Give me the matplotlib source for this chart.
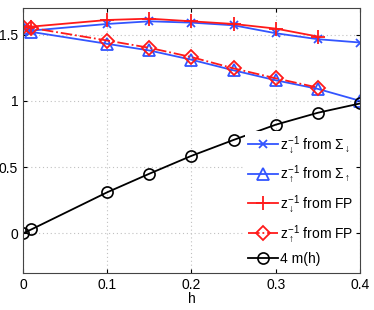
import numpy as np
import matplotlib.pyplot as plt

plt.rcParams['font.family'] = ['Liberation Sans', 'DejaVu Sans']
plt.rcParams['mathtext.fontset'] = 'custom'
plt.rcParams['mathtext.rm'] = 'Liberation Sans'
plt.rcParams['mathtext.it'] = 'Liberation Sans'

# data
h = [0, 0.01, 0.1, 0.15, 0.2, 0.25, 0.3, 0.35, 0.4]
h_fp = [0, 0.01, 0.1, 0.15, 0.2, 0.25, 0.3, 0.35]
z_dn_sigma = [1.55, 1.53, 1.58, 1.60, 1.59, 1.57, 1.51, 1.465, 1.44]
z_up_sigma = [1.55, 1.52, 1.43, 1.38, 1.31, 1.23, 1.155, 1.09, 1.0]
z_dn_fp = [1.56, 1.56, 1.61, 1.62, 1.60, 1.58, 1.545, 1.485]
z_up_fp = [1.56, 1.55, 1.455, 1.40, 1.33, 1.245, 1.17, 1.10]
m4 = [0, 0.03, 0.31, 0.45, 0.585, 0.705, 0.82, 0.91, 0.98]

blue = '#3355ff'
red = '#ff1a1a'

fig = plt.figure(figsize=(3.74, 3.10), dpi=100)
ax = fig.add_axes([0.0615, 0.119, 0.901, 0.855])

ax.plot(h, z_dn_sigma, color=blue, marker='x', ms=6, mew=1.3, lw=1.3,
        label=r'$z_{\downarrow}^{-1}$ from $\Sigma_{\downarrow}$')
ax.plot(h, z_up_sigma, color=blue, marker='^', ms=8.5, mfc='none', mew=1.3, lw=1.3,
        label=r'$z_{\uparrow}^{-1}$ from $\Sigma_{\uparrow}$')
ax.plot(h_fp, z_dn_fp, color=red, marker='+', ms=10, mew=1.3, lw=1.3,
        label=r'$z_{\downarrow}^{-1}$ from FP')
ax.plot(h_fp, z_up_fp, color=red, marker='D', ms=7, mfc='none', mew=1.3, lw=1.3,
        ls='-.', label=r'$z_{\uparrow}^{-1}$ from FP')
ax.plot(h, m4, color='black', marker='o', ms=8, mfc='none', mew=1.2, lw=1.3,
        label='4 m(h)')

ax.set_xlim(0, 0.4)
ax.set_ylim(-0.3, 1.7)
ax.set_xticks([0, 0.1, 0.2, 0.3, 0.4])
ax.set_xticklabels(['0', '0.1', '0.2', '0.3', '0.4'])
ax.set_yticks([0, 0.5, 1, 1.5])
ax.set_yticklabels(['0', '0.5', '1', '1.5'])
ax.tick_params(direction='in', labelsize=10, top=True, right=True, length=3)
ax.grid(True, ls=(0, (1, 2.5)), color='#c0c0c0', lw=0.8)
for s in ax.spines.values():
    s.set_color('#444444')
ax.set_xlabel('h', fontsize=10, labelpad=0)

leg = ax.legend(loc='lower right', frameon=True, fontsize=10, handlelength=2.2,
                handletextpad=0.1, borderpad=0.2, labelspacing=0.55,
                borderaxespad=0.3)
leg.get_frame().set_edgecolor('none')
leg.get_frame().set_facecolor('white')
leg.get_frame().set_alpha(1)

fig.savefig('out.png', dpi=100)
